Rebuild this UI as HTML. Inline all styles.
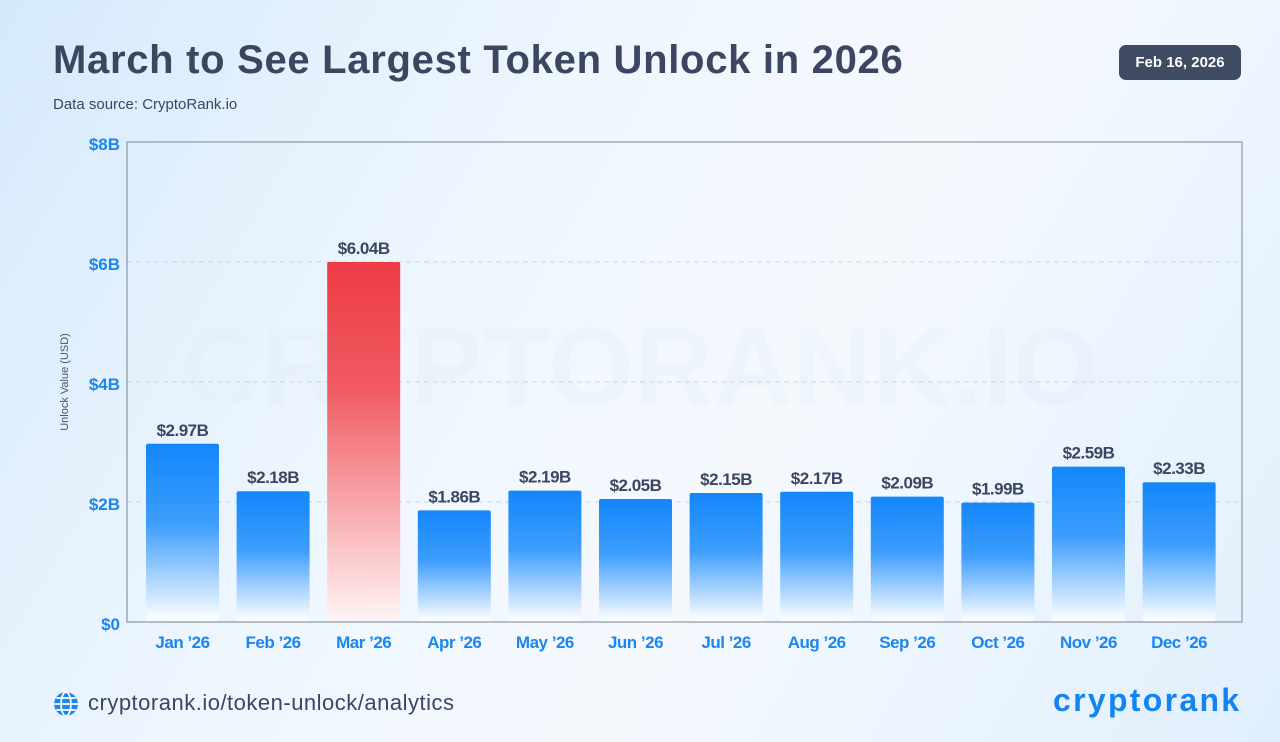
<!DOCTYPE html>
<html><head><meta charset="utf-8"><style>
body{margin:0;width:1280px;height:742px;overflow:hidden;font-family:"Liberation Sans",sans-serif;background:linear-gradient(120deg,#d6eafc 0%,#eef6fe 35%,#f5f9fe 60%,#e0effd 100%);position:relative}
.t{position:absolute;left:53px;top:38px;font-size:40px;font-weight:bold;color:#3b4660;letter-spacing:0.7px}
.s{position:absolute;left:53px;top:96px;font-size:15px;color:#3b4660}
.d{position:absolute;left:1119px;top:45px;width:122px;height:35px;background:#3f4a63;border-radius:7px;color:#fff;font-size:15px;font-weight:bold;text-align:center;line-height:35px}
.u{position:absolute;left:88px;top:690px;font-size:22px;color:#3b4660;letter-spacing:0.5px}
.logo{position:absolute;left:1053px;top:682px;font-size:32px;font-weight:bold;color:#1485f0;letter-spacing:2.3px}
</style></head><body>
<div class="t">March to See Largest Token Unlock in 2026</div>
<div class="s">Data source: CryptoRank.io</div>
<div class="d">Feb 16, 2026</div>
<svg width="1280" height="742" style="position:absolute;left:0;top:0">
<defs>
<linearGradient id="b" x1="0" y1="0" x2="0" y2="1"><stop offset="0" stop-color="#1386fb"/><stop offset="0.45" stop-color="#3d9dfd"/><stop offset="1" stop-color="#ffffff"/></linearGradient>
<linearGradient id="r" x1="0" y1="0" x2="0" y2="1"><stop offset="0" stop-color="#ee3b45"/><stop offset="0.35" stop-color="#f05a62"/><stop offset="1" stop-color="#fff4f4"/></linearGradient>
</defs>
<text x="640" y="405" font-size="110" font-weight="bold" fill="#e2eefb" text-anchor="middle" opacity="0.35">CRYPTORANK.IO</text>
<g stroke="#c9d3dd" stroke-dasharray="5,4" stroke-width="1">
<line x1="127" x2="1242" y1="262" y2="262"/><line x1="127" x2="1242" y1="382" y2="382"/><line x1="127" x2="1242" y1="502" y2="502"/>
</g>
<rect x="127" y="142" width="1115" height="480" fill="none" stroke="#8a96a6" stroke-width="1.2"/>
<g font-size="17" font-weight="bold" fill="#1a86f0" text-anchor="end">
<text x="120" y="150">$8B</text><text x="120" y="270">$6B</text><text x="120" y="390">$4B</text><text x="120" y="510">$2B</text><text x="120" y="630">$0</text>
</g>
<text transform="translate(68,382) rotate(-90)" font-size="11" fill="#4a5568" text-anchor="middle">Unlock Value (USD)</text>
<g id="bars"></g>
</svg>
<script>
var v=[2.97,2.18,6.04,1.86,2.19,2.05,2.15,2.17,2.09,1.99,2.59,2.33];
var m=["Jan","Feb","Mar","Apr","May","Jun","Jul","Aug","Sep","Oct","Nov","Dec"];
var s="";
for(var i=0;i<12;i++){var x=146+i*90.6,y=622-v[i]*60;
var yy=i==2?262:y;
s+='<rect x="'+x+'" y="'+yy+'" width="73" height="'+(621-yy)+'" rx="2" fill="url(#'+(i==2?'r':'b')+')"/>';
s+='<text x="'+(x+36.5)+'" y="'+(yy-8)+'" font-size="17" font-weight="bold" fill="#3b4660" text-anchor="middle" letter-spacing="-0.5">$'+v[i].toFixed(2)+'B</text>';
s+='<text x="'+(x+36.5)+'" y="648" font-size="17" font-weight="bold" fill="#1a86f0" text-anchor="middle" letter-spacing="-0.5">'+m[i]+' \u201926</text>';}
document.getElementById("bars").innerHTML=s;
</script>
<svg width="26" height="26" style="position:absolute;left:53px;top:691px" viewBox="0 0 24 24"><circle cx="12" cy="12" r="11" fill="#1a86f0"/><g stroke="#fff" stroke-width="1.6" fill="none"><ellipse cx="12" cy="12" rx="4.5" ry="11"/><line x1="1" y1="12" x2="23" y2="12"/><line x1="3" y1="6.5" x2="21" y2="6.5"/><line x1="3" y1="17.5" x2="21" y2="17.5"/></g></svg>
<div class="u">cryptorank.io/token-unlock/analytics</div>
<div class="logo">cryptorank</div>
</body></html>
